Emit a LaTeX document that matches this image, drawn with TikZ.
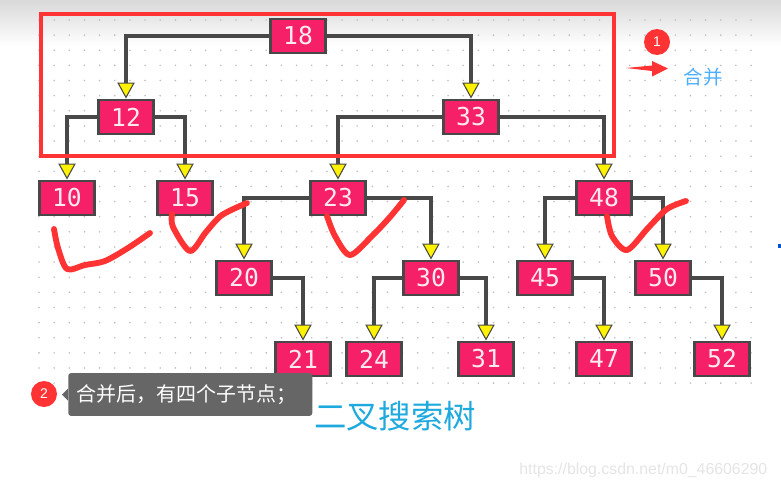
\documentclass[tikz,border=0pt]{standalone}
\usepackage{fontspec}
\setmainfont{Liberation Sans}
\newfontfamily\monofont{DejaVu Sans Mono}
\newfontfamily\cjkfont{Noto Sans CJK SC}
\usetikzlibrary{arrows.meta, calc, positioning}
\definecolor{keypink}{HTML}{F52068}
\definecolor{edgegray}{HTML}{484848}
\definecolor{markred}{HTML}{FF3333}
\definecolor{titleblue}{HTML}{1EA9DF}
\tikzset{
  % tree node style
  keybox/.style={
    draw=edgegray, fill=keypink, line width=2.2pt,
    minimum width=41.5pt, minimum height=25.5pt,
    inner sep=0pt, text=white!90!keypink, font=\monofont\fontsize{18.5}{19}\selectfont
  },
  % tree arrow style
  garr/.style={
    edgegray, line width=0.8pt,
    -{Triangle[length=12pt,width=13pt,fill=yellow]}
  },
  % thick part of the arrow
  gshaft/.style={
    edgegray, line width=2.4pt, shorten >=11.5pt
  },
  % hand written strokes
  hand/.style={
    markred, line width=4.4pt, line cap=round, line join=round
  },
  badge/.style={
    circle, fill=markred, minimum size=19.5pt, inner sep=0pt,
    text=white, font=\fontsize{10.5}{11}\selectfont
  },
}
\begin{document}
\begin{tikzpicture}[x=0.75pt,y=-0.75pt]
  \useasboundingbox (0,0) rectangle (781,489);
  \fill[white] (0,0) rectangle (781,489);
  \shade[top color=black!15, bottom color=white] (0,0) rectangle (781,46);
  % dot grid
  \foreach \i in {0,...,47}
    \foreach \j in {0,...,24}
      \fill[black!25] ({39+15.15*\i},{20+15.13*\j}) circle (0.9);

  \node[keybox] (n18) at (298,36) {18};
  \node[keybox] (n12) at (126,117) {12};
  \node[keybox] (n33) at (471,117) {33};
  \node[keybox] (n10) at (67,198) {10};
  \node[keybox] (n15) at (185,198) {15};
  \node[keybox] (n23) at (338,198) {23};
  \node[keybox] (n48) at (604,198) {48};
  \node[keybox] (n20) at (244,278) {20};
  \node[keybox] (n30) at (431,278) {30};
  \node[keybox] (n45) at (545,278) {45};
  \node[keybox] (n50) at (663,278) {50};
  \node[keybox] (n21) at (303,359) {21};
  \node[keybox] (n24) at (374,359) {24};
  \node[keybox] (n31) at (486,359) {31};
  \node[keybox] (n47) at (604,359) {47};
  \node[keybox] (n52) at (722,359) {52};

  \foreach \from/\side/\to in {n18/west/n12, n18/east/n33, n12/west/n10, n12/east/n15,
      n33/west/n23, n33/east/n48, n23/west/n20, n23/east/n30, n48/west/n45, n48/east/n50,
      n20/east/n21, n30/west/n24, n30/east/n31, n45/east/n47, n50/east/n52}{
    \draw[gshaft] (\from.\side) -| (\to.north);
    \draw[garr] (\from.\side) -| (\to.north);
  }

  % merged part
  \draw[markred, line width=2.4pt] (41,14) rectangle (614,156);

  % ticks
  \draw[hand] plot[smooth] coordinates {(54,229) (58,248) (67,269) (85,265) (105,261) (128,248) (150,233)};
  \draw[hand] plot[smooth] coordinates {(172,214) (173,227) (190,251) (206,232) (222,215) (247,203)};
  \draw[hand] plot[smooth] coordinates {(327,216) (335,236) (350,255) (372,236) (390,217) (404,200)};
  \draw[hand] plot[smooth] coordinates {(607,216) (612,236) (627,250) (648,228) (667,209) (686,201)};

  \node[badge] (one) at (657,42) {1};
  \fill[markred] (626,68) -- (652,65.5) -- (652,61) -- (668,68.5) -- (652,76.5) -- (652,71) -- cycle;
  \node[text=blue!45!cyan!70!white, font=\cjkfont\fontsize{14.6}{15}\selectfont] (merge) at (703,77) {合并};

  \node[badge] (two) at (44,394) {2};
  \node[fill=black!60, rounded corners=2pt, minimum height=32pt, inner xsep=6pt, inner ysep=0pt,
    text width=171pt, align=left, text=white, font=\cjkfont\fontsize{15}{16}\selectfont,
    anchor=west] (tip) at (68,394.5) {合并后，有四个子节点；};
  \fill[black!60] (tip.west) ++(0,-6) -- ++(-6,6) -- ++(6,6) -- cycle;

  \node[text=titleblue, font=\cjkfont\fontsize{24.3}{25}\selectfont] (title) at (395,416) {二叉搜索树};
  \node[text=black!10, font=\fontsize{11.9}{13}\selectfont, anchor=east] (mark) at (772,470) {https://blog.csdn.net/m0\_46606290};
  \fill[blue!60!cyan!80!black] (778,244) rectangle (781,248);
\end{tikzpicture}
\end{document}
